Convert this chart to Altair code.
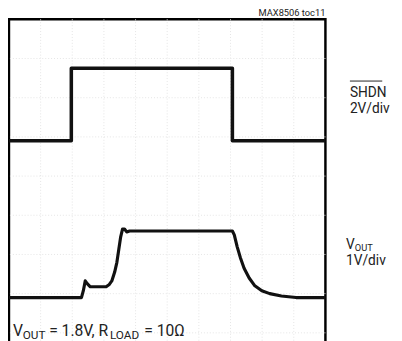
import altair as alt
import pandas as pd

# ---- data (time in divisions, volts) ----
shdn_t = [0, 1.97, 1.97, 7.06, 7.06, 10]
shdn_v = [0, 0, 3.7, 3.7, 0, 0]
SHDN_VDIV = 2.0      # 2V/div
SHDN_GND = 4.9       # ground marker, divisions from grid bottom

vout_t = [0, 2.29, 2.35, 2.41, 2.48, 2.57, 3.07, 3.16, 3.25, 3.34, 3.41, 3.47,
          3.53, 3.59, 3.65, 3.72, 3.81, 7.06, 7.12, 7.21, 7.31, 7.43, 7.59,
          7.77, 7.99, 8.24, 8.61, 9.07, 10]
vout_v = [0, 0, 0.175, 0.425, 0.35, 0.275, 0.275, 0.325, 0.425, 0.65, 0.9, 1.225,
          1.55, 1.75, 1.75, 1.675, 1.7, 1.7, 1.6, 1.3, 1.025, 0.75, 0.5,
          0.3, 0.175, 0.1, 0.04, 0, 0]
VOUT_VDIV = 1.0      # 1V/div
VOUT_GND = 0.9

grid_x = [1, 2, 3, 4, 5, 6, 7, 8, 9]
grid_y = [0, 1, 2, 3, 4, 5, 6, 7]

label_top = "MAX8506 toc11"
label_shdn = ["SHDN", "2V/div"]
label_vout = ["V", "OUT", "1V/div"]
label_cond = ["V", "OUT", "= 1.8V, R", "LOAD", "= 10Ω"]

shdn = pd.DataFrame({"t": shdn_t, "v": shdn_v, "trace": "SHDN"})
shdn["d"] = SHDN_GND + shdn["v"] / SHDN_VDIV
vout = pd.DataFrame({"t": vout_t, "v": vout_v, "trace": "VOUT"})
vout["d"] = VOUT_GND + vout["v"] / VOUT_VDIV

W, H = 323, 336
xs = alt.Scale(domain=[0, 10], nice=False, zero=False)
ys = alt.Scale(domain=[-0.4, 8], nice=False, zero=False)
FONT = "Roboto"

gx = alt.Chart(pd.DataFrame({"g": grid_x})).mark_rule(
    color="#e4e4e4", strokeWidth=1, strokeDash=[1, 2]
).encode(x=alt.X("g:Q", scale=xs, axis=None))

gy = alt.Chart(pd.DataFrame({"g": grid_y})).mark_rule(
    color="#e4e4e4", strokeWidth=1, strokeDash=[1, 2]
).encode(y=alt.Y("g:Q", scale=ys, axis=None))

def trace(df, w):
    return alt.Chart(df).mark_line(
        color="#111111", strokeWidth=w, interpolate="linear", strokeJoin="round"
    ).encode(
        x=alt.X("t:Q", scale=xs, axis=None),
        y=alt.Y("d:Q", scale=ys, axis=None),
        order="idx:Q",
    ).transform_window(idx="row_number()")

def txt(s, x, y, size, align="left"):
    return alt.Chart(pd.DataFrame({"s": [s]})).mark_text(
        font=FONT, fontSize=size, align=align, baseline="alphabetic", color="#222222"
    ).encode(text="s:N", x=alt.value(x), y=alt.value(y))

overline = alt.Chart(pd.DataFrame({"a": [0]})).mark_rule(
    color="#222222", strokeWidth=1
).encode(x=alt.value(348), x2=alt.value(381), y=alt.value(63))

layers = [
    gx, gy, trace(shdn, 3.6), trace(vout, 3.2),
    txt(label_top, 323, -3, 9.5, "right"),
    overline,
    txt(label_shdn[0], 348, 79, 14),
    txt(label_shdn[1], 348, 96, 14),
    txt(label_vout[0], 344, 234, 14),
    txt(label_vout[1], 353, 236, 9.5),
    txt(label_vout[2], 344, 251, 14),
    txt(label_cond[0], 4, 323, 16),
    txt(label_cond[1], 14, 326, 12),
    txt(label_cond[2], 41, 323, 16),
    txt(label_cond[3], 103, 326, 12),
    txt(label_cond[4], 138, 323, 16),
]

chart = alt.layer(*layers).properties(
    width=W, height=H,
    padding={"left": 1, "top": 8, "right": 70, "bottom": 0},
    autosize=alt.AutoSizeParams(type="none"),
    background="white",
).configure_view(stroke="black", strokeWidth=2.5)

chart.save("out.html", embed_options={"renderer": "svg", "actions": False})
